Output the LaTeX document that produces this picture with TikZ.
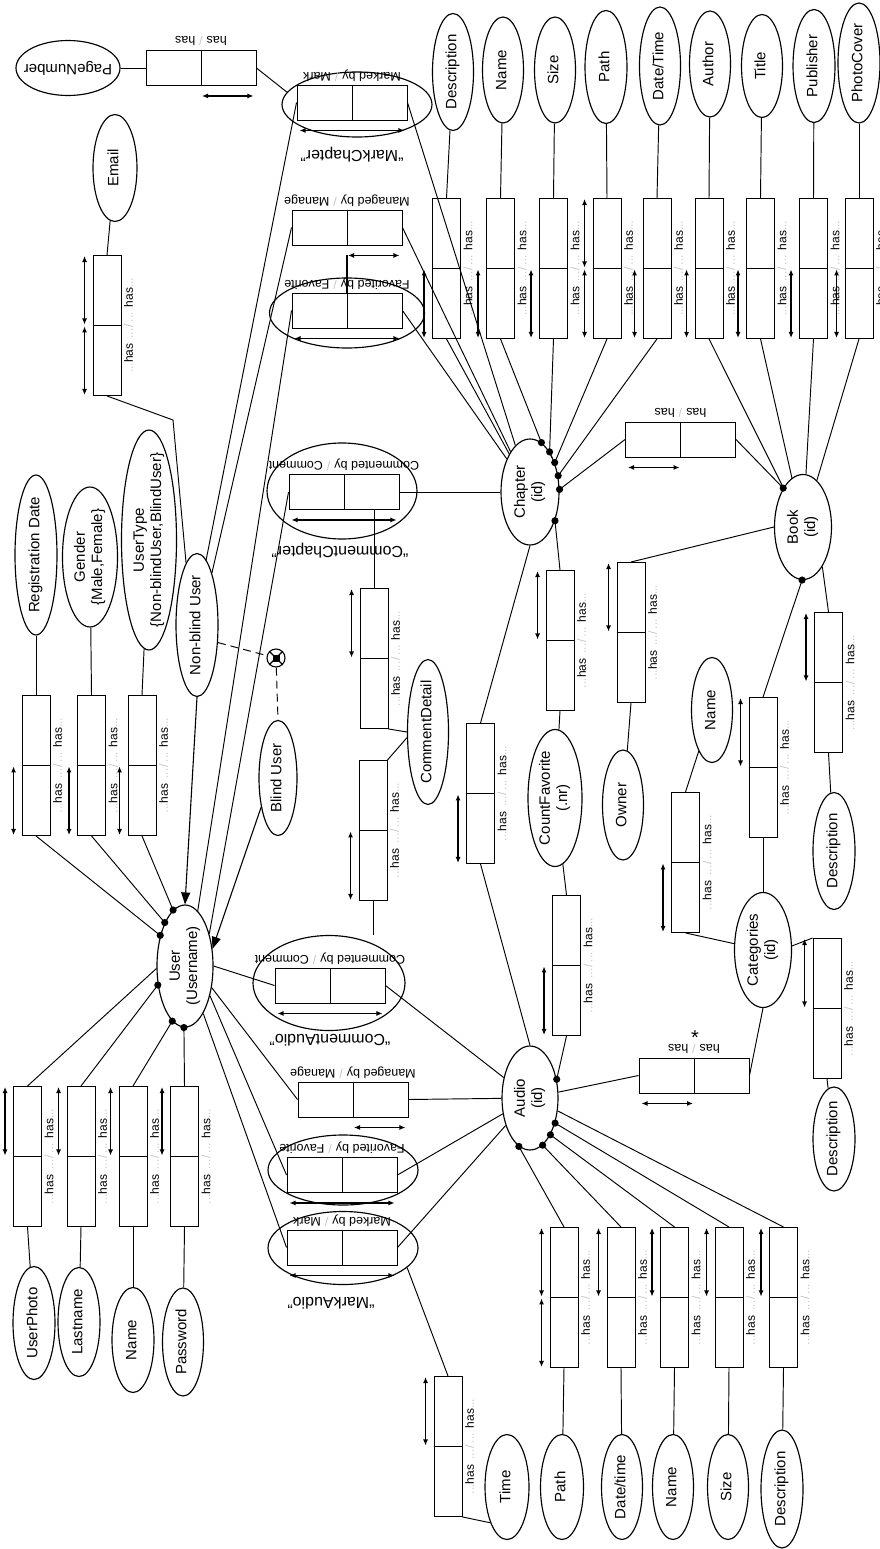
\documentclass[tikz,border=0pt]{standalone}
\usepackage{fontspec}
\setmainfont{Liberation Sans}
\usepackage{graphicx}
\usetikzlibrary{shapes.geometric,arrows.meta,calc}
\newcommand\fsz[1]{\fontsize{#1}{\dimexpr#1pt*115/100\relax}\selectfont}
\newcommand\rtext[1]{\rotatebox{90}{\begin{tabular}{@{}c@{}}#1\end{tabular}}}
\newcommand\hastext{{\color{gray!45}...}has\hspace{5pt}{\color{gray!45}...\hspace{1.5pt}/\hspace{1.5pt}...}\hspace{5pt}has{\color{gray!45}...}}
\newcommand\relt[2]{#1\hspace{4pt}{\color{gray!45}/}\hspace{4pt}#2}
\tikzset{
  ell/.style={draw, ellipse, line width=1.15pt, inner sep=0pt},
  etext/.style={inner sep=0pt, font=\fsz{15}},
  rbox/.style={draw, rectangle, line width=0.95pt, minimum width=28pt, minimum height=140pt, inner sep=0pt},
  hbox/.style={draw, rectangle, line width=0.95pt, minimum width=110pt, minimum height=35pt, inner sep=0pt},
  agg/.style={draw, ellipse, line width=1.15pt, inner sep=0pt},
  conn/.style={line width=0.95pt},
  dar/.style={{Latex[length=6pt,width=5pt]}-{Latex[length=6pt,width=5pt]}, line width=1.1pt, shorten <=1pt, shorten >=1pt},
  isa/.style={-{Triangle[length=12pt,width=9pt]}, line width=1.1pt},
  hlab/.style={font=\fsz{12}, inner sep=0pt},
  rlab/.style={font=\fsz{12.5}, inner sep=0pt},
  capt/.style={font=\fsz{16}, inner sep=0pt},
}
\newcommand\mkell[6]{\node[ell, minimum width=#4pt, minimum height=#5pt] (#1) at (#2,#3) {};
  \node[etext] (#1-t) at (#1) {\rtext{#6}};}
\newcommand\vrel[4]{%
  \node[rbox, anchor=north] (#1) at (#2,#3) {};
  \draw[line width=0.95pt] (#1.west) -- (#1.east);
  \node[hlab] (#1-t) at ([xshift=7pt]#1.east) {\rotatebox{90}{\hastext}};
  \if#4u\draw[dar] ([xshift=-8pt]#1.north west) -- ([xshift=-8pt]#1.west);\fi
  \if#4l\draw[dar] ([xshift=-8pt]#1.west) -- ([xshift=-8pt]#1.south west);\fi
  \if#4b\draw[dar] ([xshift=-8pt]#1.north west) -- ([xshift=-8pt]#1.west);
        \draw[dar] ([xshift=-8pt]#1.west) -- ([xshift=-8pt]#1.south west);\fi
}
\newcommand\hrel[5]{%
  \node[hbox] (#1) at (#2,#3) {};
  \draw[line width=0.95pt] (#1.north) -- (#1.south);
  \node[rlab] (#1-t) at ([yshift=9pt]#1.north) {\rotatebox{180}{#4}};
  \if#5f\draw[dar] ([xshift=2pt,yshift=-10pt]#1.south west) -- ([xshift=-2pt,yshift=-10pt]#1.south east);\fi
  \if#5r\draw[dar] ([yshift=-10pt]#1.south) -- ([xshift=-2pt,yshift=-10pt]#1.south east);\fi
  \if#5l\draw[dar] ([xshift=2pt,yshift=-10pt]#1.south west) -- ([yshift=-10pt]#1.south);\fi
}
\newcommand\mkdot{}
\renewcommand\mkdot[1]{\fill (#1) circle (3.6pt);}
\begin{document}
\begin{tikzpicture}[x=1pt,y=-1pt]
\useasboundingbox (0,0) rectangle (880,1549);

% ---------- entities ----------
\mkell{user}{185}{966}{56}{122}{User\\(Username)}
\mkell{audio}{530}{1098}{56}{104}{Audio\\(id)}
\mkell{chapter}{530}{492}{58}{106}{Chapter\\(id)}
\mkell{book}{803}{527}{57}{105}{Book\\(id)}
\mkell{cat}{763}{950}{57}{115}{Categories\\(id)}

% ---------- attributes ----------
\mkell{nbu}{197}{625}{42}{143}{Non-blind User}
\mkell{bu}{278}{778}{38}{115}{Blind User}
\mkell{email}{115}{168}{44}{107}{Email}
\node[ell, minimum width=104pt, minimum height=55pt] (pagenum) at (68,68) {};
\node[etext] (pagenum-t) at (pagenum) {\rotatebox{180}{PageNumber}};
\mkell{regdate}{36}{555}{42}{160}{Registration Date}
\mkell{gender}{90}{557}{55}{140}{Gender\\\{Male,Female\}}
\mkell{usertype}{149}{540}{55}{220}{UserType\\\{Non-blindUser,BlindUser\}}
\mkell{uphoto}{34}{1323}{42}{113}{UserPhoto}
\mkell{lastname}{79}{1322}{42}{109}{Lastname}
\mkell{uname}{133}{1340}{42}{105}{Name}
\mkell{password}{183}{1342}{41}{108}{Password}
\mkell{time}{507}{1487}{44}{105}{Time}
\mkell{apath}{562}{1487}{43}{105}{Path}
\mkell{adate}{622}{1487}{41}{105}{Date/time}
\mkell{aname}{673}{1487}{41}{105}{Name}
\mkell{asize}{728}{1487}{41}{105}{Size}
\mkell{adesc}{782}{1489}{42}{118}{Description}
\mkell{cdesc}{453}{72}{41}{117}{Description}
\mkell{cname}{503}{70}{41}{106}{Name}
\mkell{csize}{555}{70}{41}{106}{Size}
\mkell{cpath}{606}{67}{42}{113}{Path}
\mkell{cdate}{660}{66}{41}{118}{Date/Time}
\mkell{author}{710}{64}{41}{106}{Author}
\mkell{title}{762}{66}{41}{103}{Title}
\mkell{publisher}{814}{66}{42}{113}{Publisher}
\mkell{photocover}{859}{63}{42}{120}{PhotoCover}
\mkell{owner}{623}{805}{41}{110}{Owner}
\mkell{catname}{712}{710}{41}{105}{Name}
\mkell{bdesc}{834}{851}{42}{117}{Description}
\mkell{catdesc}{834}{1139}{42}{104}{Description}
\mkell{countfav}{555}{798}{54}{137}{CountFavorite\\(.nr)}
\mkell{cdetail}{428}{732}{41}{145}{CommentDetail}

% ---------- vertical relationship boxes ----------
\vrel{breg}{36}{695}{l}
\vrel{bgen}{91.5}{695}{l}
\vrel{but}{142}{695}{l}
\vrel{bemail}{107}{255}{b}
\vrel{bphoto}{27.5}{1086}{u}
\vrel{blast}{81}{1086}{u}
\vrel{buname}{133}{1086}{u}
\vrel{bpass}{184.5}{1086}{u}
\vrel{bcdesc}{446.5}{198}{l}
\vrel{bcname}{500.5}{198}{l}
\vrel{bcsize}{553.5}{198}{l}
\vrel{bcpath}{607}{198}{b}
\vrel{bcdate}{657}{198}{l}
\vrel{bauthor}{709}{198}{l}
\vrel{btitle}{760.5}{198}{l}
\vrel{bpub}{813.5}{198}{l}
\vrel{bcover}{859}{198}{l}
\vrel{bapath}{564}{1227}{b}
\vrel{badate}{621}{1227}{u}
\vrel{baname}{674.5}{1227}{u}
\vrel{basize}{729}{1227}{u}
\vrel{badesc}{783.5}{1227}{u}
\vrel{btime}{448}{1376}{u}
\vrel{bowner}{631}{562}{u}
\vrel{bbcat}{763}{697}{u}
\vrel{bbdesc}{828.5}{612}{u}
\vrel{bcatname}{685.5}{792}{l}
\vrel{bcatdesc}{827}{938}{u}
\vrel{bcfa}{566.5}{895}{l}
\vrel{bcfc}{560}{570}{u}
\vrel{bac}{480.5}{723}{l}
\vrel{bcd1}{374}{588}{u}
\vrel{bcd2}{373}{760}{l}

% ---------- aggregation ellipses ----------
\node[agg, minimum width=150pt, minimum height=65pt] (emc) at (357,104.5) {};
\node[agg, minimum width=155pt, minimum height=70pt] (efavc) at (347,313) {};
\node[agg, minimum width=150pt, minimum height=96pt] (ecomc) at (342,491) {};
\node[agg, minimum width=152pt, minimum height=95pt] (ecoma) at (329,983) {};
\node[agg, minimum width=150pt, minimum height=70pt] (efava) at (343,1170) {};
\node[agg, minimum width=150pt, minimum height=73pt] (emarka) at (343,1248) {};

% ---------- horizontal relationship boxes ----------
\hrel{hpn}{201}{68}{\relt{has}{has}}{r}
\hrel{hmc}{352}{102.5}{\relt{Marked by}{Mark}}{f}
\hrel{hmanc}{347}{227.5}{\relt{Managed by}{Manage}}{r}
\hrel{hfavc}{347}{310.5}{\relt{Favorited by}{Favorite}}{f}
\hrel{hcomc}{344}{492}{\relt{Commented by}{Comment}}{f}
\hrel{hbook}{680.5}{439.5}{\relt{has}{has}}{l}
\hrel{hcoma}{330}{985.5}{\relt{Commented by}{Comment}}{f}
\hrel{hmana}{353}{1099.5}{\relt{Managed by}{Manage}}{r}
\hrel{hfava}{342}{1175}{\relt{Favorited by}{Favorite}}{f}
\hrel{hmarka}{342}{1247.5}{\relt{Marked by}{Mark}}{f}
\hrel{hcat}{694}{1075.5}{\relt{has}{has}}{l}
\node[font=\fsz{20}, inner sep=0pt] (star) at (695,1038) {*};
\draw[line width=1.1pt] ([yshift=-10pt]hmanc.south) -- (hfavc.north);

% ---------- captions ----------
\node[capt] (capmc) at (352,155) {\rotatebox{180}{``MarkChapter''}};
\node[capt] (capcomc) at (340,551) {\rotatebox{180}{``CommentChapter''}};
\node[capt] (capcoma) at (330,1040) {\rotatebox{180}{``CommentAudio''}};
\node[capt] (capmarka) at (331,1303) {\rotatebox{180}{``MarkAudio''}};

% ---------- specialisation ----------
\node[circle, draw, line width=1.1pt, minimum size=18pt, inner sep=0pt] (spec) at (276,658) {};
\draw[line width=1.1pt] (spec.45) -- (spec.225) (spec.135) -- (spec.315);
\node[fill, minimum size=7pt, inner sep=0pt] (specsq) at (spec) {};
\draw[conn, dash pattern=on 8pt off 5pt] (nbu.-40) -- (spec);
\draw[conn, dash pattern=on 8pt off 5pt] (spec) -- (bu.north);
\draw[isa] (nbu.south) -- (user.north);
\draw[isa] (bu.240) -- (user.32);

% ---------- user connections ----------
\draw[conn] (regdate) -- (breg.north);
\draw[conn] (gender) -- (bgen.north);
\draw[conn] (usertype) -- (but.north);
\draw[conn] (breg.south) -- (user.129); \mkdot{user.129}
\draw[conn] (bgen.south) -- (user.115); \mkdot{user.115}
\draw[conn] (but.south) -- (user.102); \mkdot{user.102}
\draw[conn] (bphoto.north) -- (user.185);
\draw[conn] (blast.north) -- (user.215); \mkdot{user.215}
\draw[conn] (buname.north) -- (user.257); \mkdot{user.257}
\draw[conn] (bpass.north) -- (user.269); \mkdot{user.269}
\draw[conn] (bphoto.south) -- (uphoto);
\draw[conn] (blast.south) -- (lastname);
\draw[conn] (buname.south) -- (uname);
\draw[conn] (bpass.south) -- (password);
\coordinate (nbujoint) at (173,420);
\draw[conn] (email) -- (bemail.north);
\draw[conn] (bemail.south) -- (nbujoint) -- (nbu.100);
\draw[conn] (nbu.82) -- (hmc.west);
\draw[conn] (nbu.74) -- (hmanc.west);
\draw[conn] (user.77) -- (hfavc.west);
\draw[conn] (user.53) -- (hcomc.west);
\draw[conn] (user.0) -- (hcoma.west);
\draw[conn] (user.-39) -- (hmana.west);
\draw[conn] (user.-50) -- (hfava.west);
\draw[conn] (user.-69) -- (hmarka.west);
\draw[conn] (pagenum) -- (hpn.west);
\draw[conn] (hpn.east) -- (emc.170);

% ---------- chapter connections ----------
\draw[conn] (hmc.east) -- (chapter);
\draw[conn] (hmanc.east) -- (chapter);
\draw[conn] (hfavc.east) -- (chapter);
\draw[conn] (hcomc.east) -- (chapter.west);
\draw[conn] (cdesc) -- (bcdesc.north);
\draw[conn] (cname) -- (bcname.north);
\draw[conn] (csize) -- (bcsize.north);
\draw[conn] (cpath) -- (bcpath.north);
\draw[conn] (cdate) -- (bcdate.north);
\draw[conn] (author) -- (bauthor.north);
\draw[conn] (title) -- (btitle.north);
\draw[conn] (publisher) -- (bpub.north);
\draw[conn] (photocover) -- (bcover.north);
\draw[conn] (bcdesc.south) -- (chapter);
\draw[conn] (bcname.south) -- (chapter.77); \mkdot{chapter.77}
\draw[conn] (bcsize.south) -- (chapter.64); \mkdot{chapter.64}
\draw[conn] (bcpath.south) -- (chapter.50); \mkdot{chapter.50}
\draw[conn] (bcdate.south) -- (chapter.30); \mkdot{chapter.30}
\draw[conn] (hbook.west) -- (chapter.5); \mkdot{chapter.5}
\draw[conn] (hbook.east) -- (book.117); \mkdot{book.117}
\draw[conn] (bauthor.south) -- (book);
\draw[conn] (btitle.south) -- (book);
\draw[conn] (bpub.south) -- (book);
\draw[conn] (bcover.south) -- (book);
\draw[conn] (bcfc.north) -- (chapter.-49); \mkdot{chapter.-49}
\draw[conn] (countfav) -- (bcfc.south);
\draw[conn] (bac.north) -- (chapter.south);

% ---------- comment detail ----------
\draw[conn] (hcomc.south -| bcd1.north) -- (bcd1.north);
\draw[conn] (bcd1.south east) -- (cdetail.180);
\draw[conn] (bcd2.north east) -- (cdetail.195);
\draw[conn] (bcd2.south) -- (bcd2.south |- ecoma.north);

% ---------- book / categories ----------
\draw[conn] (book.-91) -- (bbcat.north); \mkdot{book.-91}
\draw[conn] (bbcat.south) -- (cat.north);
\draw[conn] (book.-64) -- (bbdesc.north);
\draw[conn] (bbdesc.south) -- (bdesc);
\draw[conn] (book.west) -- (bowner.north);
\draw[conn] (bowner.south) -- (owner);
\draw[conn] (catname) -- (bcatname.north);
\draw[conn] (bcatname.south) -- (cat);
\draw[conn] (cat.8) -- (bcatdesc.north west);
\draw[conn] (bcatdesc.south) -- (catdesc);
\draw[conn] (cat.south) -- (hcat.east);
\draw[conn] (hcat.west) -- (audio);

% ---------- audio connections ----------
\draw[conn] (hcoma.east) -- (audio);
\draw[conn] (hmana.east) -- (audio);
\draw[conn] (hfava.east) -- (audio);
\draw[conn] (hmarka.east) -- (audio);
\draw[conn] (bac.south) -- (audio.north);
\draw[conn] (audio.35) -- (bcfa.south); \mkdot{audio.35}
\draw[conn] (bcfa.north) -- (countfav);
\draw[conn] (audio.257) -- (bapath.north); \mkdot{audio.257}
\draw[conn] (audio.-75) -- (badate.north); \mkdot{audio.-75}
\draw[conn] (audio.-61) -- (baname.north); \mkdot{audio.-61}
\draw[conn] (audio.-45) -- (basize.north); \mkdot{audio.-45}
\draw[conn] (audio.-25) -- (badesc.north);
\draw[conn] (bapath.south) -- (apath);
\draw[conn] (badate.south) -- (adate);
\draw[conn] (baname.south) -- (aname);
\draw[conn] (basize.south) -- (asize);
\draw[conn] (badesc.south) -- (adesc);
\draw[conn] (emarka.-17) -- (btime.north);
\draw[conn] (btime.south east) -- (time.245);
\end{tikzpicture}
\end{document}
